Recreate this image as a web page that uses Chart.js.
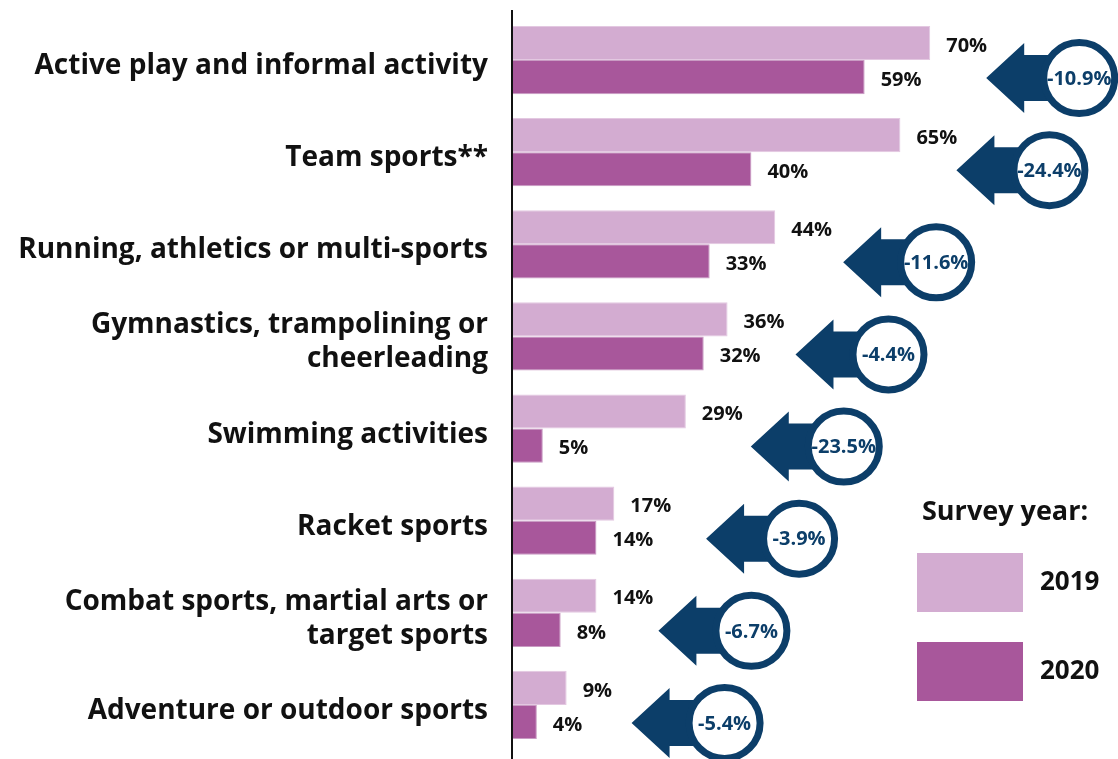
<!DOCTYPE html>
<html>
<head>
<meta charset="utf-8">
<script src="https://cdn.jsdelivr.net/npm/chart.js@4/dist/chart.umd.min.js"></script>
<style>
html, body { margin: 0; padding: 0; background: #fff; }
#chart { display: block; }
</style>
</head>
<body>
<canvas id="chart" width="1118" height="759"></canvas>
<script>
// data
const categories = [
  'Active play and informal activity',
  'Team sports**',
  'Running, athletics or multi-sports',
  ['Gymnastics, trampolining or', 'cheerleading'],
  'Swimming activities',
  'Racket sports',
  ['Combat sports, martial arts or', 'target sports'],
  'Adventure or outdoor sports'
];
const years = ['2019', '2020'];
const values2019 = [70, 65, 44, 36, 29, 17, 14, 9];
const values2020 = [59, 40, 33, 32, 5, 14, 8, 4];
const changes = [-10.9, -24.4, -11.6, -4.4, -23.5, -3.9, -6.7, -5.4];

// layout / style
const FONT = '"Open Sans", sans-serif';
const NAVY = '#0c3e69';
const TEXT = '#111';
const COL2019 = '#d3acd1';
const COL2020 = '#a8579b';
// where the change badges sit, in axis units (placed by hand in the original)
const badgeX = [95, 90, 71, 63, 55.5, 48, 40, 35.5];

const decor = {
  id: 'decor',
  afterDatasetsDraw(chart) {
    const { ctx, chartArea, scales: { x } } = chart;
    ctx.save();

    // axis line
    ctx.strokeStyle = TEXT;
    ctx.lineWidth = 2;
    ctx.beginPath();
    ctx.moveTo(chartArea.left - 1, chartArea.top - 4);
    ctx.lineTo(chartArea.left - 1, chart.height);
    ctx.stroke();

    // value labels
    ctx.font = `700 20px ${FONT}`;
    ctx.fillStyle = TEXT;
    ctx.textBaseline = 'middle';
    ctx.textAlign = 'left';
    chart.data.datasets.forEach((ds, di) => {
      chart.getDatasetMeta(di).data.forEach((bar, i) => {
        ctx.fillText(ds.data[i] + '%', bar.x + 16, bar.y + 3);
      });
    });

    // change badges
    const bars2020 = chart.getDatasetMeta(1).data;
    changes.forEach((c, i) => {
      const cy = bars2020[i].y + 1;
      const cx = x.getPixelForValue(badgeX[i]);
      const tip = cx - 93;
      ctx.fillStyle = NAVY;
      ctx.beginPath();
      ctx.moveTo(tip, cy);
      ctx.lineTo(tip + 38, cy - 35);
      ctx.lineTo(tip + 38, cy - 23);
      ctx.lineTo(cx, cy - 23);
      ctx.lineTo(cx, cy + 23);
      ctx.lineTo(tip + 38, cy + 23);
      ctx.lineTo(tip + 38, cy + 35);
      ctx.closePath();
      ctx.fill();

      ctx.beginPath();
      ctx.arc(cx, cy, 35.5, 0, Math.PI * 2);
      ctx.fillStyle = '#fff';
      ctx.fill();
      ctx.lineWidth = 7;
      ctx.strokeStyle = NAVY;
      ctx.stroke();

      ctx.fillStyle = NAVY;
      ctx.textAlign = 'center';
      ctx.font = `700 20px ${FONT}`;
      ctx.fillText(c.toFixed(1) + '%', cx, cy + 1);
    });

    // legend
    const lx = chart.width - 201;
    ctx.fillStyle = TEXT;
    ctx.textAlign = 'left';
    ctx.font = `700 27px ${FONT}`;
    ctx.fillText('Survey year:', lx + 5, 512);
    chart.data.datasets.forEach((ds, di) => {
      const top = 553 + di * 89;
      ctx.fillStyle = ds.backgroundColor;
      ctx.fillRect(lx, top, 106, 59);
      ctx.fillStyle = TEXT;
      ctx.font = `700 26px ${FONT}`;
      ctx.fillText(ds.label, lx + 123, top + 30);
    });

    ctx.restore();
  }
};

new Chart(document.getElementById('chart'), {
  type: 'bar',
  data: {
    labels: categories,
    datasets: [
      { label: years[0], data: values2019, backgroundColor: COL2019, borderColor: '#e3c8e1', borderWidth: 1 },
      { label: years[1], data: values2020, backgroundColor: COL2020, borderColor: '#c99bc3', borderWidth: 1 }
    ]
  },
  options: {
    indexAxis: 'y',
    responsive: false,
    animation: false,
    events: [],
    layout: { padding: { top: 14, bottom: 8, right: 9, left: 0 } },
    datasets: { bar: { categoryPercentage: 0.74, barPercentage: 1 } },
    plugins: { legend: { display: false }, tooltip: { enabled: false } },
    scales: {
      x: { display: false, min: 0, max: 100 },
      y: {
        grid: { display: false, drawTicks: false },
        border: { display: false },
        ticks: {
          color: TEXT,
          padding: 25,
          labelOffset: 6,
          font: { family: FONT, size: 28, weight: '700', lineHeight: 1.22 }
        },
        afterFit(scale) {
          scale.width = 513;
          scale.paddingTop = 0;
          scale.paddingBottom = 0;
        }
      }
    }
  },
  plugins: [decor]
});
</script>
</body>
</html>
